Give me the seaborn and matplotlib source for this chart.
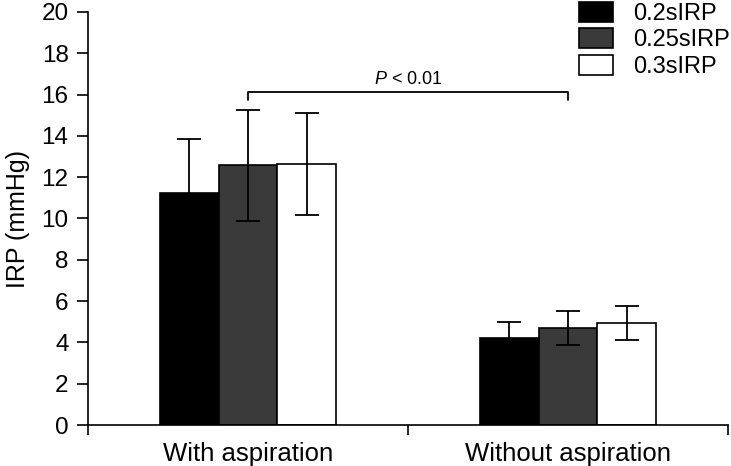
import pandas as pd
import matplotlib
matplotlib.use("Agg")
import matplotlib.pyplot as plt
import seaborn as sns

# Datos
grupos = ["With aspiration", "Without aspiration"]
series = ["0.2sIRP", "0.25sIRP", "0.3sIRP"]
media_02 = [11.25, 4.2]
media_025 = [12.57, 4.71]
media_03 = [12.64, 4.94]
de_02 = [2.6, 0.8]
de_025 = [2.7, 0.83]
de_03 = [2.47, 0.8]
colores = ["#000000", "#3a3a3a", "#ffffff"]
texto_p = "$P$ < 0.01"

medias = [media_02, media_025, media_03]
desvios = [de_02, de_025, de_03]

filas = []
for s, vals in zip(series, medias):
    for g, v in zip(grupos, vals):
        filas.append({"grupo": g, "serie": s, "valor": v})
df = pd.DataFrame(filas)

sns.set_style("ticks", {"axes.edgecolor": "black", "text.color": "black",
                        "axes.labelcolor": "black", "xtick.color": "black",
                        "ytick.color": "black"})
plt.rcParams["font.family"] = ["Liberation Sans", "DejaVu Sans"]
plt.rcParams["mathtext.fontset"] = "custom"
plt.rcParams["mathtext.it"] = "Liberation Sans:italic"

fig = plt.figure(figsize=(7.31, 4.66), dpi=100)
ax = fig.add_axes([88 / 731, 41 / 466, 640 / 731, 413 / 466])

sns.barplot(data=df, x="grupo", y="valor", hue="serie", palette=colores,
            edgecolor="black", linewidth=1.2, errorbar=None, width=0.553,
            gap=0, saturation=1, ax=ax)

# barras de error
for cont, de in zip(ax.containers, desvios):
    for barra, e in zip(cont, de):
        x = barra.get_x() + barra.get_width() / 2
        ax.errorbar(x, barra.get_height(), yerr=e, fmt="none", ecolor="black",
                    elinewidth=1.3, capsize=8.5, capthick=1.3, zorder=3)

# corchete de significancia
ax.plot([0, 0, 1, 1], [15.75, 16.15, 16.15, 15.75], color="black", lw=1.3)
ax.text(0.5, 16.3, texto_p, ha="center", va="bottom", fontsize=13)

ax.set_xlim(-0.5, 1.5)
ax.set_ylim(0, 20)
ax.set_yticks(range(0, 21, 2))
ax.set_xticks([-0.5, 0.5, 1.5], minor=True)
ax.tick_params(axis="x", which="major", length=0, pad=12, labelsize=18.5)
ax.tick_params(axis="x", which="minor", length=7, width=1.2, direction="out")
ax.tick_params(axis="y", length=8, width=1.2, direction="out", pad=6, labelsize=17.5)
ax.set_xlabel("")
ax.set_ylabel("IRP (mmHg)", fontsize=18, labelpad=8)
sns.despine(ax=ax)
for sp in ["left", "bottom"]:
    ax.spines[sp].set_linewidth(1.2)

ax.get_legend().remove()
ax.legend(ax.containers, series, loc="upper right", frameon=False,
          bbox_to_anchor=(730 / 731, 1 - 2 / 466), bbox_transform=fig.transFigure,
          fontsize=17, handlelength=1.45, handleheight=0.9, handletextpad=0.85,
          labelspacing=0.15, borderpad=0, borderaxespad=0)

fig.savefig("out.png", dpi=100)
